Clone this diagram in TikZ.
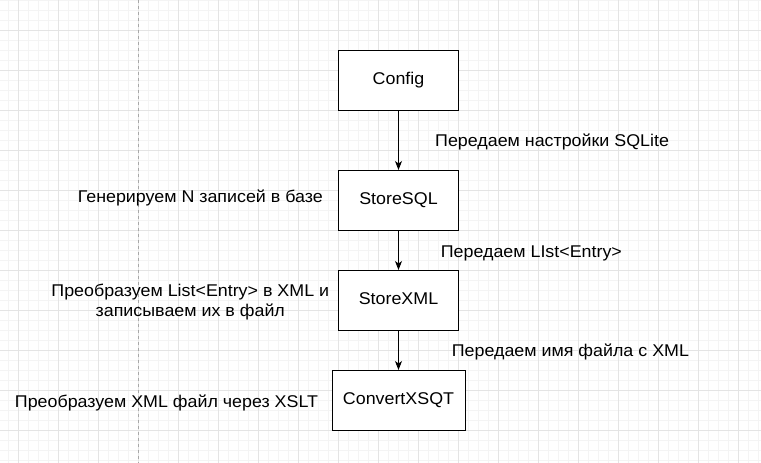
\documentclass[tikz,border=0pt]{standalone}
\usepackage{fontspec}
\setmainfont[FakeStretch=1.05]{Liberation Sans}
\usetikzlibrary{arrows.meta}
\definecolor{gridminor}{HTML}{F4F4F4}
\definecolor{gridmajor}{HTML}{E4E4E4}
\definecolor{pagebreak}{HTML}{A8A8A8}
\tikzset{
  blockbox/.style={draw=black, line width=1pt, fill=white, minimum width=120pt,
    minimum height=60pt, inner sep=0pt, text height=12pt, text depth=3.5pt,
    font=\fontsize{17}{20}\selectfont},
  lbl/.style={inner sep=0pt, font=\fontsize{17}{20}\selectfont, align=center},
  flow/.style={draw=black, line width=1pt, -{Stealth[length=9pt,width=7pt,inset=2.5pt]}},
  minorline/.style={draw=gridminor, line width=1pt},
  majorline/.style={draw=gridmajor, line width=1pt},
  breakline/.style={draw=pagebreak, line width=1pt, dash pattern=on 3pt off 3pt}
}
\begin{document}
\begin{tikzpicture}[x=1pt,y=-1pt]
\useasboundingbox (0,0) rectangle (761,463);
\fill[white] (0,0) rectangle (761,463);
% grid
\foreach \i in {0,...,75} { \draw[minorline] (8.5+10*\i,0) -- (8.5+10*\i,463); }
\foreach \j in {0,...,46} { \draw[minorline] (0,0.5+10*\j) -- (761,0.5+10*\j); }
\foreach \i in {0,...,18} { \draw[majorline] (18.5+40*\i,0) -- (18.5+40*\i,463); }
\foreach \j in {0,...,10} { \draw[majorline] (0,30.5+40*\j) -- (761,30.5+40*\j); }
\draw[breakline] (138.5,0) -- (138.5,463);
% boxes
\node[blockbox] (config) at (398.5,80.5) {Config};
\node[blockbox] (storesql) at (398.5,200.5) {StoreSQL};
\node[blockbox] (storexml) at (398.5,300.5) {StoreXML};
\node[blockbox, minimum width=133pt] (convert) at (398.5,400.5) {ConvertXSQT};
% connectors
\draw[flow] (config) -- (storesql);
\draw[flow] (storesql) -- (storexml);
\draw[flow] (storexml) -- (convert);
% labels
\node[lbl, anchor=base west] (t1) at (435,146.3) {Передаем настройки SQLite};
\node[lbl, anchor=base east] (t2) at (323,202) {Генерируем N записей в базе};
\node[lbl, anchor=base west] (t3) at (440.7,257) {Передаем LIst<Entry>};
\node[lbl, anchor=base] (t4) at (190.3,316.5) {Преобразуем List<Entry> в XML и\\записываем их в файл};
\node[lbl, anchor=base west] (t5) at (451.7,356) {Передаем имя файла с XML};
\node[lbl, anchor=base east] (t6) at (318.3,407) {Преобразуем XML файл через XSLT};
\end{tikzpicture}
\end{document}
